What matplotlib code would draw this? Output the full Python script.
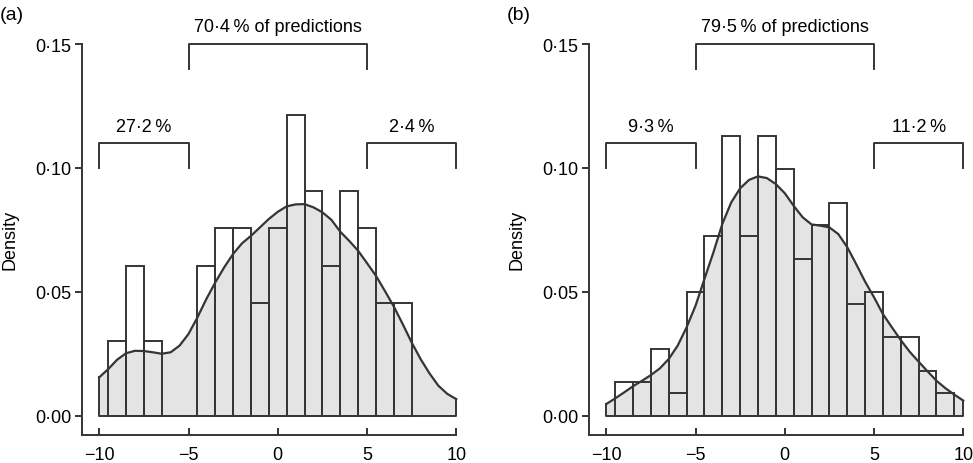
import matplotlib
matplotlib.use('Agg')
import matplotlib.pyplot as plt
import numpy as np

plt.rcParams['font.family'] = ['Liberation Sans', 'DejaVu Sans']
plt.rcParams['axes.unicode_minus'] = True

# histogram bins (centres, width 1)
centres_a = [-9, -8, -7, -6, -5, -4, -3, -2, -1, 0, 1, 2, 3, 4, 5, 6, 7]
heights_a = [0.0303, 0.0606, 0.0303, 0.0, 0.0, 0.0606, 0.0758, 0.0758, 0.0455,
             0.0758, 0.1212, 0.0909, 0.0606, 0.0909, 0.0758, 0.0455, 0.0455]

centres_b = [-9, -8, -7, -6, -5, -4, -3, -2, -1, 0, 1, 2, 3, 4, 5, 6, 7, 8, 9]
heights_b = [0.0136, 0.0136, 0.0271, 0.0090, 0.0498, 0.0724, 0.1131, 0.0724, 0.1131,
             0.0995, 0.0633, 0.0769, 0.0860, 0.0452, 0.0498, 0.0317, 0.0317, 0.0181, 0.0090]

# density curves
kde_x = [-10, -9.5, -9, -8.5, -8, -7.5, -7, -6.5, -6, -5.5, -5, -4.5, -4, -3.5, -3,
         -2.5, -2, -1.5, -1, -0.5, 0, 0.5, 1, 1.5, 2, 2.5, 3, 3.5, 4, 4.5, 5, 5.5,
         6, 6.5, 7, 7.5, 8, 8.5, 9, 9.5, 10]
kde_a = [0.0155, 0.0188, 0.0226, 0.0252, 0.0262, 0.0261, 0.0256, 0.0250, 0.0256, 0.0283,
         0.0330, 0.0397, 0.0471, 0.0538, 0.0599, 0.0653, 0.0696, 0.0726, 0.0760, 0.0794,
         0.0823, 0.0845, 0.0853, 0.0854, 0.0841, 0.0821, 0.0791, 0.0743, 0.0706, 0.0666,
         0.0616, 0.0565, 0.0504, 0.0441, 0.0370, 0.0296, 0.0229, 0.0171, 0.0121, 0.0088,
         0.0067]
kde_b = [0.0047, 0.0070, 0.0094, 0.0119, 0.0141, 0.0164, 0.0191, 0.0229, 0.0283, 0.0357,
         0.0444, 0.0552, 0.0659, 0.0774, 0.0861, 0.0918, 0.0952, 0.0966, 0.0959, 0.0935,
         0.0898, 0.0847, 0.0801, 0.0772, 0.0767, 0.0760, 0.0733, 0.0680, 0.0612, 0.0541,
         0.0478, 0.0410, 0.0357, 0.0305, 0.0258, 0.0218, 0.0179, 0.0141, 0.0111, 0.0085,
         0.0061]

pct_a = ['27\u00b72\u2009%', '70\u00b74\u2009% of predictions', '2\u00b74\u2009%']
pct_b = ['9\u00b73\u2009%', '79\u00b75\u2009% of predictions', '11\u00b72\u2009%']

edge = '#353535'
fillc = '#e4e4e4'

fig = plt.figure(figsize=(9.73, 4.64), dpi=100)
ax_a = fig.add_axes([0.0846, 0.0603, 0.3898, 0.9397])
ax_b = fig.add_axes([0.6057, 0.0603, 0.3898, 0.9397])


def panel(ax, centres, heights, kde, pcts):
    ax.fill_between(kde_x, 0, kde, facecolor=fillc, edgecolor='none', zorder=1)
    # outline of filled area (sides and base)
    ax.plot([kde_x[0], kde_x[0], kde_x[-1], kde_x[-1]], [kde[0], 0, 0, kde[-1]],
            color=edge, lw=1.4, zorder=2)
    ax.bar(centres, heights, width=1.0, facecolor='none', edgecolor=edge,
           linewidth=1.4, zorder=3)
    ax.plot(kde_x, kde, color=edge, lw=1.6, zorder=4, solid_joinstyle='round')

    # brackets
    brackets = [(-10, -5, 0.11, 0.10), (-5, 5, 0.15, 0.14), (5, 10, 0.11, 0.10)]
    for (x0, x1, ytop, ybot), txt in zip(brackets, pcts):
        ax.plot([x0, x0, x1, x1], [ybot, ytop, ytop, ybot], color=edge, lw=1.4,
                clip_on=False, zorder=4)
        ax.text((x0 + x1) / 2, ytop + 0.0035, txt, ha='center', va='bottom',
                fontsize=13, clip_on=False)

    ax.set_xlim(-10.95, 10.3)
    ax.set_ylim(-0.0078, 0.1682)
    ax.spines['top'].set_visible(False)
    ax.spines['right'].set_visible(False)
    ax.spines['left'].set_bounds(-0.0078, 0.15)
    ax.spines['bottom'].set_bounds(-10.95, 10)
    for s in ['left', 'bottom']:
        ax.spines[s].set_linewidth(1.4)
        ax.spines[s].set_color(edge)
    ax.set_xticks([-10, -5, 0, 5, 10])
    ax.set_xticklabels(['\u221210', '\u22125', '0', '5', '10'])
    ax.set_yticks([0, 0.05, 0.10, 0.15])
    ax.set_yticklabels(['0\u00b700', '0\u00b705', '0\u00b710', '0\u00b715'])
    ax.tick_params(axis='x', direction='in', length=5, width=1.4, color=edge,
                   labelsize=13, pad=8)
    ax.tick_params(axis='y', direction='out', length=5, width=1.4, color=edge,
                   labelsize=13, pad=3)
    ax.patch.set_alpha(0)


panel(ax_a, centres_a, heights_a, kde_a, pct_a)
panel(ax_b, centres_b, heights_b, kde_b, pct_b)

fig.text(10 / 973, 0.483, 'Density', rotation=90, ha='center', va='center', fontsize=13)
fig.text(517 / 973, 0.483, 'Density', rotation=90, ha='center', va='center', fontsize=13)
fig.text(0.0, 0.967, '(a)', ha='left', va='center', fontsize=14)
fig.text(507 / 973, 0.967, '(b)', ha='left', va='center', fontsize=14)

fig.savefig('out.png', dpi=100)
